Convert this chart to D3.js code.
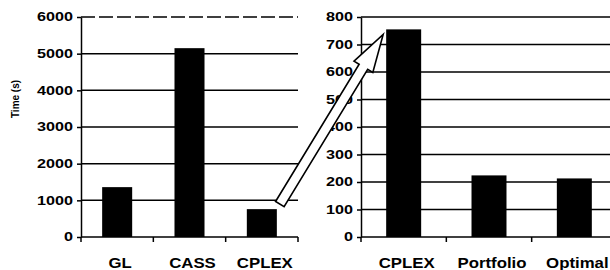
<!DOCTYPE html>
<html>
<head>
<meta charset="utf-8">
<script src="https://cdnjs.cloudflare.com/ajax/libs/d3/7.8.5/d3.min.js"></script>
<style>
  body { margin: 0; background: #fff; }
  svg { display: block; font-family: "Liberation Sans", Arial, sans-serif; }
</style>
</head>
<body>
<script>
// data
var leftCats = ["GL", "CASS", "CPLEX"];
var leftVals = [1360, 5150, 760];
var leftTicks = [0, 1000, 2000, 3000, 4000, 5000, 6000];

var rightCats = ["CPLEX", "Portfolio", "Optimal"];
var rightVals = [755, 224, 213];
var rightTicks = [0, 100, 200, 300, 400, 500, 600, 700, 800];

var svg = d3.select("body").append("svg").attr("width", 610).attr("height", 270);
svg.append("rect").attr("width", 610).attr("height", 270).attr("fill", "#fff");

// plot area edges (window.top is taken, so named differently)
var plotTop = 17, plotBottom = 237;

// left panel scales
var xL = d3.scaleBand().domain(leftCats).range([81, 298]).paddingInner(0.585).paddingOuter(0.2925);
var yL = d3.scaleLinear().domain([0, 6000]).range([plotBottom, plotTop]);

// right panel scales
var xR = d3.scaleBand().domain(rightCats).range([361, 617]).paddingInner(0.59).paddingOuter(0.295);
var yR = d3.scaleLinear().domain([0, 800]).range([plotBottom, plotTop]);

function panel(g, x, y, cats, vals, ticks, dashTop) {
    var x0 = x.range()[0], x1 = x.range()[1];

    // gridlines
    g.selectAll(".grid")
        .data(ticks.slice(1))
        .enter().append("line")
        .attr("x1", x0).attr("x2", Math.min(x1, 610))
        .attr("y1", function(d) { return y(d); })
        .attr("y2", function(d) { return y(d); })
        .attr("stroke", "#000")
        .attr("stroke-width", 1.5)
        .attr("stroke-dasharray", function(d, i) { return (dashTop && i == ticks.length - 2) ? "14 4" : null; });

    // bars
    g.selectAll(".bar")
        .data(vals)
        .enter().append("rect")
        .attr("x", function(d, i) { return x(cats[i]); })
        .attr("width", x.bandwidth())
        .attr("y", function(d) { return y(d); })
        .attr("height", function(d) { return y(0) - y(d); })
        .attr("fill", "#000");

    // y axis
    var ax = g.append("g")
        .attr("transform", "translate(" + x0 + ",0)")
        .call(d3.axisLeft(y).tickValues(ticks).tickFormat(d3.format("d"))
            .tickSize(4).tickPadding(2).tickSizeOuter(0));
    ax.select(".domain").attr("stroke", "#000").attr("stroke-width", 1.5);
    ax.selectAll(".tick line").attr("stroke", "#000").attr("stroke-width", 1.5);
    ax.selectAll(".tick text")
        .attr("fill", "#000")
        .style("font-size", "12px")
        .style("font-weight", "bold")
        .attr("transform", "scale(1.35,1)");

    // x axis with ticks at category boundaries
    g.append("line")
        .attr("x1", x0).attr("x2", Math.min(x1, 610))
        .attr("y1", y(0)).attr("y2", y(0))
        .attr("stroke", "#000").attr("stroke-width", 1.5);
    var bounds = d3.range(cats.length + 1).map(function(i) { return x0 + i * x.step(); });
    g.selectAll(".xtick")
        .data(bounds)
        .enter().append("line")
        .attr("x1", function(d) { return d; }).attr("x2", function(d) { return d; })
        .attr("y1", y(0)).attr("y2", y(0) + 5)
        .attr("stroke", "#000").attr("stroke-width", 1.5);

    // category labels
    g.selectAll(".cat")
        .data(cats)
        .enter().append("text")
        .attr("transform", function(d) {
            return "translate(" + (x(d) + x.bandwidth() / 2 + 3) + ",268) scale(1.2,1)";
        })
        .attr("text-anchor", "middle")
        .style("font-size", "14px")
        .style("font-weight", "bold")
        .text(function(d) { return d; });
}

panel(svg.append("g"), xL, yL, leftCats, leftVals, leftTicks, true);
panel(svg.append("g"), xR, yR, rightCats, rightVals, rightTicks, false);

// y axis title
svg.append("text")
    .attr("transform", "translate(19,99) rotate(-90)")
    .attr("text-anchor", "middle")
    .style("font-size", "10px")
    .style("font-weight", "bold")
    .text("Time (s)");

// block arrow from left CPLEX bar to right CPLEX bar
var tail = [xL("CPLEX") + xL.bandwidth() + 3, yL(leftVals[2]) - 5];
var tip = [xR("CPLEX") - 3, yR(rightVals[0]) + 5];
var dx = tip[0] - tail[0], dy = tip[1] - tail[1];
var len = Math.sqrt(dx * dx + dy * dy);
var ang = Math.atan2(dy, dx) * 180 / Math.PI;
var hl = 38, hw = 11, sw = 5;
var pts = [[0, -sw], [len - hl, -sw], [len - hl, -hw], [len, 0], [len - hl, hw], [len - hl, sw], [0, sw]];
svg.append("polygon")
    .attr("transform", "translate(" + tail[0] + "," + tail[1] + ") rotate(" + ang + ")")
    .attr("points", pts.map(function(p) { return p.join(","); }).join(" "))
    .attr("fill", "#fff")
    .attr("stroke", "#000")
    .attr("stroke-width", 1.6)
    .attr("stroke-linejoin", "miter");
</script>
</body>
</html>
